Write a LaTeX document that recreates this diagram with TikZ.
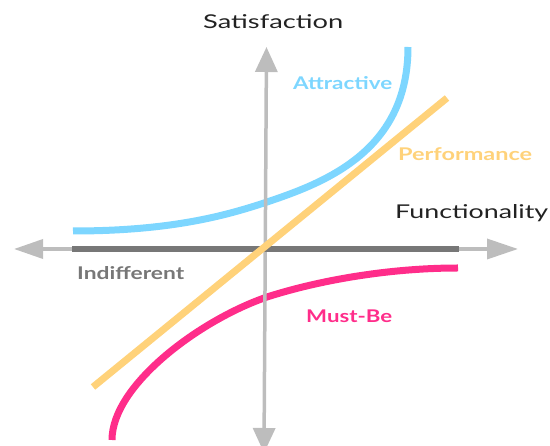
\documentclass[tikz,border=0pt]{standalone}
\usepackage{fontspec}
\setmainfont{Lato}
\usepackage{graphicx}
\usetikzlibrary{arrows.meta}
\definecolor{axisgrey}{HTML}{BDBDBD}
\definecolor{indiff}{HTML}{777777}
\definecolor{attr}{HTML}{7DD6FF}
\definecolor{perf}{HTML}{FFD27A}
\definecolor{must}{HTML}{FF2D8A}
\definecolor{ink}{HTML}{222222}
\newcommand{\wlbl}[2]{\resizebox{#1pt}{\height}{#2}}
\begin{document}
\begin{tikzpicture}[x=1pt,y=-1pt,
  titletext/.style={anchor=base west, inner sep=0pt, font=\fontsize{19}{19}\selectfont, text=ink},
  curvelabel/.style={anchor=base west, inner sep=0pt, font=\fontsize{17.5}{17.5}\selectfont\bfseries},
  curveline/.style={line width=7pt},
  axisline/.style={draw=axisgrey, line width=3.5pt}]
\useasboundingbox (0,0) rectangle (550,446);
\clip (0,0) rectangle (550,446);
% curves below the vertical axis
\draw[curveline, attr] (73,231) .. controls (170,231) and (225,216) .. (267,202)
  .. controls (327,182) and (408,150) .. (408,47);
\draw[curveline, must] (112,440) .. controls (112,385) and (200,320) .. (267,297)
  .. controls (320,280) and (390,268) .. (458,268);
% axes
\coordinate (vtop) at (266.5,47);
\coordinate (vbot) at (264,453);
\coordinate (hleft) at (14,249);
\coordinate (hright) at (518,249);
\draw[axisline, {Triangle[length=25pt,width=22pt]}-{Triangle[length=25pt,width=22pt]}] (vbot) -- (vtop);
\draw[axisline, {Triangle[length=29pt,width=19pt]}-{Triangle[length=31pt,width=20pt]}] (hleft) -- (hright);
% indifferent
\coordinate (i1) at (72,249);
\coordinate (i2) at (459,249);
\draw[curveline, indiff, line width=6.5pt] (i1) -- (i2);
% performance
\coordinate (p1) at (93,387);
\coordinate (p2) at (447,98);
\draw[curveline, perf] (p1) -- (p2);
% labels
\node[titletext] (sat) at (203,29) {\wlbl{140}{Satisfaction}};
\node[titletext] (fun) at (395,219) {\wlbl{153}{Functionality}};
\node[curvelabel, text=attr] (att) at (293,89.5) {\wlbl{99}{Attractive}};
\node[curvelabel, text=perf] (per) at (398,161) {\wlbl{134}{Performance}};
\node[curvelabel, text=indiff] (ind) at (77,280) {\wlbl{107}{Indifferent}};
\node[curvelabel, text=must] (mus) at (306,323) {\wlbl{86}{Must-Be}};
\end{tikzpicture}
\end{document}
